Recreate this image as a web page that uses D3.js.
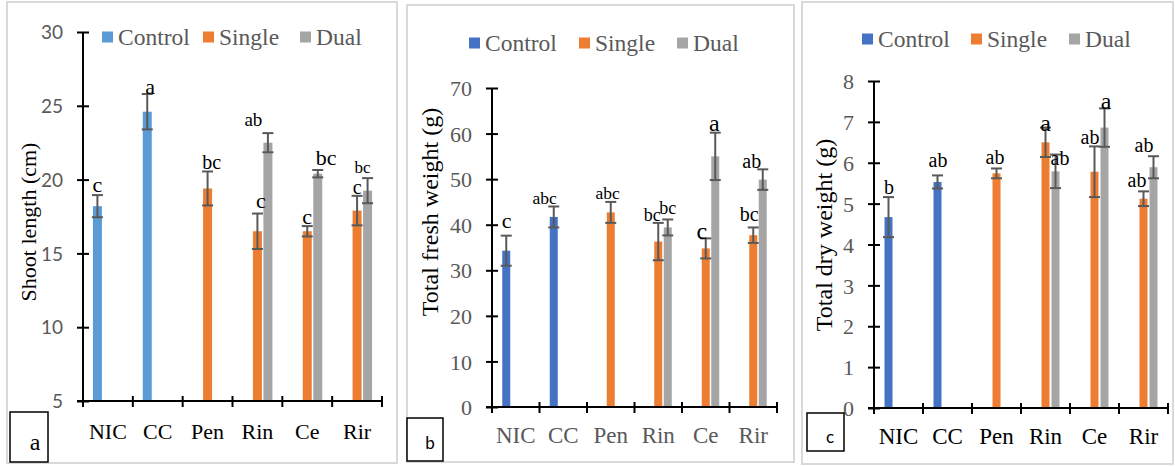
<!DOCTYPE html>
<html>
<head>
<meta charset="utf-8">
<script src="https://cdn.jsdelivr.net/npm/d3@7"></script>
<style>
  html, body { margin: 0; padding: 0; background: #fff; }
  svg { display: block; }
</style>
</head>
<body>
<svg id="fig" width="1175" height="466"></svg>
<script>
// Treatments and inoculation groups
const categories = ["NIC", "CC", "Pen", "Rin", "Ce", "Rir"];
const series = ["Control", "Single", "Dual"];

// (a) Shoot length (cm)
const shootControl = [18.2, 24.6, null, null, null, null];
const shootSingle  = [null, null, 19.4, 16.5, 16.5, 17.9];
const shootDual    = [null, null, null, 22.5, 20.4, 19.25];
const shootControlErr = [0.75, 1.2, null, null, null, null];
const shootSingleErr  = [null, null, 1.15, 1.2, 0.35, 1.0];
const shootDualErr    = [null, null, null, 0.65, 0.25, 0.85];
const shootControlSig = ["c", "a", null, null, null, null];
const shootSingleSig  = [null, null, "bc", "c", "c", "c"];
const shootDualSig    = [null, null, null, "ab", "bc", "bc"];
const shootTicks = [5, 10, 15, 20, 25, 30];

// (b) Total fresh weight (g)
const freshControl = [34.3, 41.7, null, null, null, null];
const freshSingle  = [null, null, 42.7, 36.3, 34.8, 37.7];
const freshDual    = [null, null, null, 39.4, 55.0, 49.9];
const freshControlErr = [3.3, 2.3, null, null, null, null];
const freshSingleErr  = [null, null, 2.3, 4.1, 2.2, 1.7];
const freshDualErr    = [null, null, null, 1.75, 5.2, 2.25];
const freshControlSig = ["c", "abc", null, null, null, null];
const freshSingleSig  = [null, null, "abc", "bc", "c", "bc"];
const freshDualSig    = [null, null, null, "bc", "a", "ab"];
const freshTicks = [0, 10, 20, 30, 40, 50, 60, 70];

// (c) Total dry weight (g)
const dryControl = [4.67, 5.53, null, null, null, null];
const drySingle  = [null, null, 5.74, 6.50, 5.78, 5.12];
const dryDual    = [null, null, null, 5.79, 6.86, 5.89];
const dryControlErr = [0.49, 0.16, null, null, null, null];
const drySingleErr  = [null, null, 0.12, 0.36, 0.62, 0.18];
const dryDualErr    = [null, null, null, 0.41, 0.47, 0.27];
const dryControlSig = ["b", "ab", null, null, null, null];
const drySingleSig  = [null, null, "ab", "a", "ab", "ab"];
const dryDualSig    = [null, null, null, "ab", "a", "ab"];
const dryTicks = [0, 1, 2, 3, 4, 5, 6, 7, 8];

const SERIF = "'Liberation Serif', 'Times New Roman', serif";
const SANS = "Lato, 'Liberation Sans', sans-serif";
const GREY_TEXT = "#595959";
const ERR_COLOR = "#595959";

// Placement of the significance letters: [dx, dy, fontSize] relative to the
// bar centre and the top of its error bar, per series and category.
const letterPlacementA = {
  Control: [[0, -11, 22], [3, -7.5, 22]],
  Single:  [null, null, [4, -9, 20], [3.5, -13, 22], [0, -10, 22], [0, -9, 20]],
  Dual:    [null, null, null, [-14.5, -13.5, 19], [8.5, -13, 22], [-5, -11.5, 17]]
};
const letterPlacementB = {
  Control: [[0.5, -15.5, 22], [-9, -9, 17.5]],
  Single:  [null, null, [-3, -9, 17.5], [-6, -8, 18], [-4, -8, 24], [-4, -13, 20]],
  Dual:    [null, null, null, [0, -12, 18], [-1, -10.5, 24], [-11, -8.5, 20]]
};
const letterPlacementC = {
  Control: [[0.5, -10, 20], [0.5, -15.5, 20]],
  Single:  [null, null, [-1.5, -11, 20], [0, -5, 24], [-4.5, -9, 20], [-6.5, -11, 20]],
  Dual:    [null, null, null, [4.5, 3, 20], [1.5, -8, 24], [-9.5, -11.5, 20]]
};

const panels = [
  {
    id: "a",
    border: [7, 2, 397, 463],
    xRange: [83, 382], yRange: [401, 32], yDomain: [5, 30], ticks: shootTicks,
    colors: { Control: "#5B9BD5", Single: "#ED7D31", Dual: "#A5A5A5" },
    values: { Control: shootControl, Single: shootSingle, Dual: shootDual },
    errors: { Control: shootControlErr, Single: shootSingleErr, Dual: shootDualErr },
    sig: { Control: shootControlSig, Single: shootSingleSig, Dual: shootDualSig },
    place: letterPlacementA,
    barW: 9, step: 10.5,
    tickFont: SANS, tickSize: 19, tickColor: GREY_TEXT,
    catColor: "#000", catSize: 22, catY: 431,
    title: "Shoot length (cm)", titleX: 28, titleY: 222, titleSize: 22,
    legendX: [102, 203, 300], legendY: 37, legendSize: 23.5,
    tag: { rect: [10, 412, 38, 50], text: "a", x: 35, y: 442, font: SERIF, size: 24 }
  },
  {
    id: "b",
    border: [407, 5, 794, 462],
    xRange: [492, 777], yRange: [407, 88], yDomain: [0, 70], ticks: freshTicks,
    colors: { Control: "#4472C4", Single: "#ED7D31", Dual: "#A5A5A5" },
    values: { Control: freshControl, Single: freshSingle, Dual: freshDual },
    errors: { Control: freshControlErr, Single: freshSingleErr, Dual: freshDualErr },
    sig: { Control: freshControlSig, Single: freshSingleSig, Dual: freshDualSig },
    place: letterPlacementB,
    barW: 8, step: 9.5,
    tickFont: SERIF, tickSize: 22, tickColor: GREY_TEXT,
    catColor: GREY_TEXT, catSize: 23, catY: 435,
    title: "Total fresh weight (g)", titleX: 430, titleY: 212, titleSize: 24,
    legendX: [469, 579, 677], legendY: 43, legendSize: 23.5,
    tag: { rect: [407, 418, 36, 43], text: "b", x: 430, y: 443, font: SANS, size: 17 }
  },
  {
    id: "c",
    border: [802, 2, 1173, 464],
    xRange: [874, 1168], yRange: [408, 81], yDomain: [0, 8], ticks: dryTicks,
    colors: { Control: "#4472C4", Single: "#ED7D31", Dual: "#A5A5A5" },
    values: { Control: dryControl, Single: drySingle, Dual: dryDual },
    errors: { Control: dryControlErr, Single: drySingleErr, Dual: dryDualErr },
    sig: { Control: dryControlSig, Single: drySingleSig, Dual: dryDualSig },
    place: letterPlacementC,
    barW: 8, step: 10,
    tickFont: SERIF, tickSize: 22, tickColor: GREY_TEXT,
    catColor: "#000", catSize: 23, catY: 436,
    title: "Total dry weight (g)", titleX: 824, titleY: 235, titleSize: 24,
    legendX: [862, 971, 1069], legendY: 39, legendSize: 23.5,
    tag: { rect: [807, 413, 37, 38], text: "c", x: 830, y: 437, font: SANS, size: 17 }
  }
];

const svg = d3.select("#fig");

panels.forEach(p => {
  const g = svg.append("g").attr("class", "panel-" + p.id);

  // Panel frame
  g.append("rect")
    .attr("x", p.border[0]).attr("y", p.border[1])
    .attr("width", p.border[2] - p.border[0]).attr("height", p.border[3] - p.border[1])
    .attr("fill", "none").attr("stroke", "#D9D9D9").attr("stroke-width", 2);

  const x0 = d3.scaleBand().domain(categories).range(p.xRange).padding(0);
  const pad = (p.step - p.barW) / p.step;
  const x1 = d3.scaleBand().domain(series)
    .range([-1.5 * p.step, 1.5 * p.step])
    .paddingInner(pad).paddingOuter(pad / 2);
  const y = d3.scaleLinear().domain(p.yDomain).range(p.yRange);

  const barCenter = (cat, s) => x0(cat) + x0.bandwidth() / 2 + x1(s) + x1.bandwidth() / 2;

  // Flatten series into records
  const recs = [];
  series.forEach(s => {
    categories.forEach((c, i) => {
      const v = p.values[s][i];
      if (v == null) return;
      recs.push({ s, c, i, v, e: p.errors[s][i], sig: p.sig[s][i], pl: (p.place[s] || [])[i] });
    });
  });

  // Bars
  g.append("g").selectAll("rect").data(recs).join("rect")
    .attr("x", d => barCenter(d.c, d.s) - x1.bandwidth() / 2)
    .attr("width", x1.bandwidth())
    .attr("y", d => y(d.v))
    .attr("height", d => y(p.yDomain[0]) - y(d.v))
    .attr("fill", d => p.colors[d.s]);

  // Error bars
  const eg = g.append("g").attr("stroke", ERR_COLOR).attr("stroke-width", 2);
  recs.forEach(d => {
    const cx = barCenter(d.c, d.s);
    const top = y(d.v + d.e), bot = y(d.v - d.e);
    eg.append("line").attr("x1", cx).attr("x2", cx).attr("y1", top).attr("y2", bot);
    eg.append("line").attr("x1", cx - 5.5).attr("x2", cx + 5.5).attr("y1", top).attr("y2", top);
    eg.append("line").attr("x1", cx - 5.5).attr("x2", cx + 5.5).attr("y1", bot).attr("y2", bot);
  });

  // Y axis
  const yAxis = g.append("g")
    .attr("transform", `translate(${p.xRange[0]},0)`)
    .call(d3.axisLeft(y).tickValues(p.ticks).tickSize(6).tickPadding(14).tickSizeOuter(0));
  yAxis.select(".domain").attr("stroke", "#000").attr("stroke-width", 2)
    .attr("d", `M0,${p.yRange[1]}V${y(p.yDomain[0]) + 6}`);
  yAxis.selectAll(".tick line").attr("x1", -6).attr("x2", 6).attr("stroke", "#000").attr("stroke-width", 2);
  yAxis.selectAll(".tick text")
    .attr("font-family", p.tickFont).attr("font-size", p.tickSize)
    .attr("fill", p.tickColor).attr("dy", "0.35em");

  // X axis with tick marks on category boundaries
  const baseY = y(p.yDomain[0]);
  const xg = g.append("g");
  xg.append("line")
    .attr("x1", p.xRange[0] - 6).attr("x2", p.xRange[1])
    .attr("y1", baseY).attr("y2", baseY)
    .attr("stroke", "#000").attr("stroke-width", 2);
  const bounds = categories.map(c => x0(c)).concat([p.xRange[1]]);
  xg.selectAll("line.tk").data(bounds).join("line").attr("class", "tk")
    .attr("x1", d => d).attr("x2", d => d)
    .attr("y1", baseY - 5).attr("y2", baseY + 6)
    .attr("stroke", "#000").attr("stroke-width", 2);
  xg.selectAll("text").data(categories).join("text")
    .attr("x", c => x0(c) + x0.bandwidth() / 2)
    .attr("y", p.catY).attr("dy", "0.35em")
    .attr("text-anchor", "middle")
    .attr("font-family", SERIF).attr("font-size", p.catSize)
    .attr("fill", p.catColor)
    .text(c => c);

  // Significance letters
  g.append("g").selectAll("text").data(recs.filter(d => d.sig && d.pl)).join("text")
    .attr("x", d => barCenter(d.c, d.s) + d.pl[0])
    .attr("y", d => y(d.v + d.e) + d.pl[1])
    .attr("dy", "0.35em")
    .attr("text-anchor", "middle")
    .attr("font-family", SERIF).attr("font-size", d => d.pl[2])
    .attr("fill", "#000")
    .text(d => d.sig);

  // Y axis title
  g.append("text")
    .attr("transform", `translate(${p.titleX},${p.titleY}) rotate(-90)`)
    .attr("dy", "0.35em")
    .attr("text-anchor", "middle")
    .attr("font-family", SERIF).attr("font-size", p.titleSize)
    .attr("fill", "#000")
    .text(p.title);

  // Legend
  const lg = g.append("g");
  series.forEach((s, k) => {
    const lx = p.legendX[k];
    lg.append("rect").attr("x", lx).attr("y", p.legendY - 5.5)
      .attr("width", 11).attr("height", 11).attr("fill", p.colors[s]);
    lg.append("text").attr("x", lx + 16).attr("y", p.legendY).attr("dy", "0.35em")
      .attr("font-family", SERIF).attr("font-size", p.legendSize)
      .attr("fill", GREY_TEXT).text(s);
  });

  // Panel tag box
  const t = p.tag;
  g.append("rect").attr("x", t.rect[0]).attr("y", t.rect[1])
    .attr("width", t.rect[2]).attr("height", t.rect[3])
    .attr("fill", "#fff").attr("stroke", "#000").attr("stroke-width", 1.5);
  g.append("text").attr("x", t.x).attr("y", t.y).attr("dy", "0.35em")
    .attr("text-anchor", "middle")
    .attr("font-family", t.font).attr("font-size", t.size)
    .attr("fill", "#000").text(t.text);
});
</script>
</body>
</html>
